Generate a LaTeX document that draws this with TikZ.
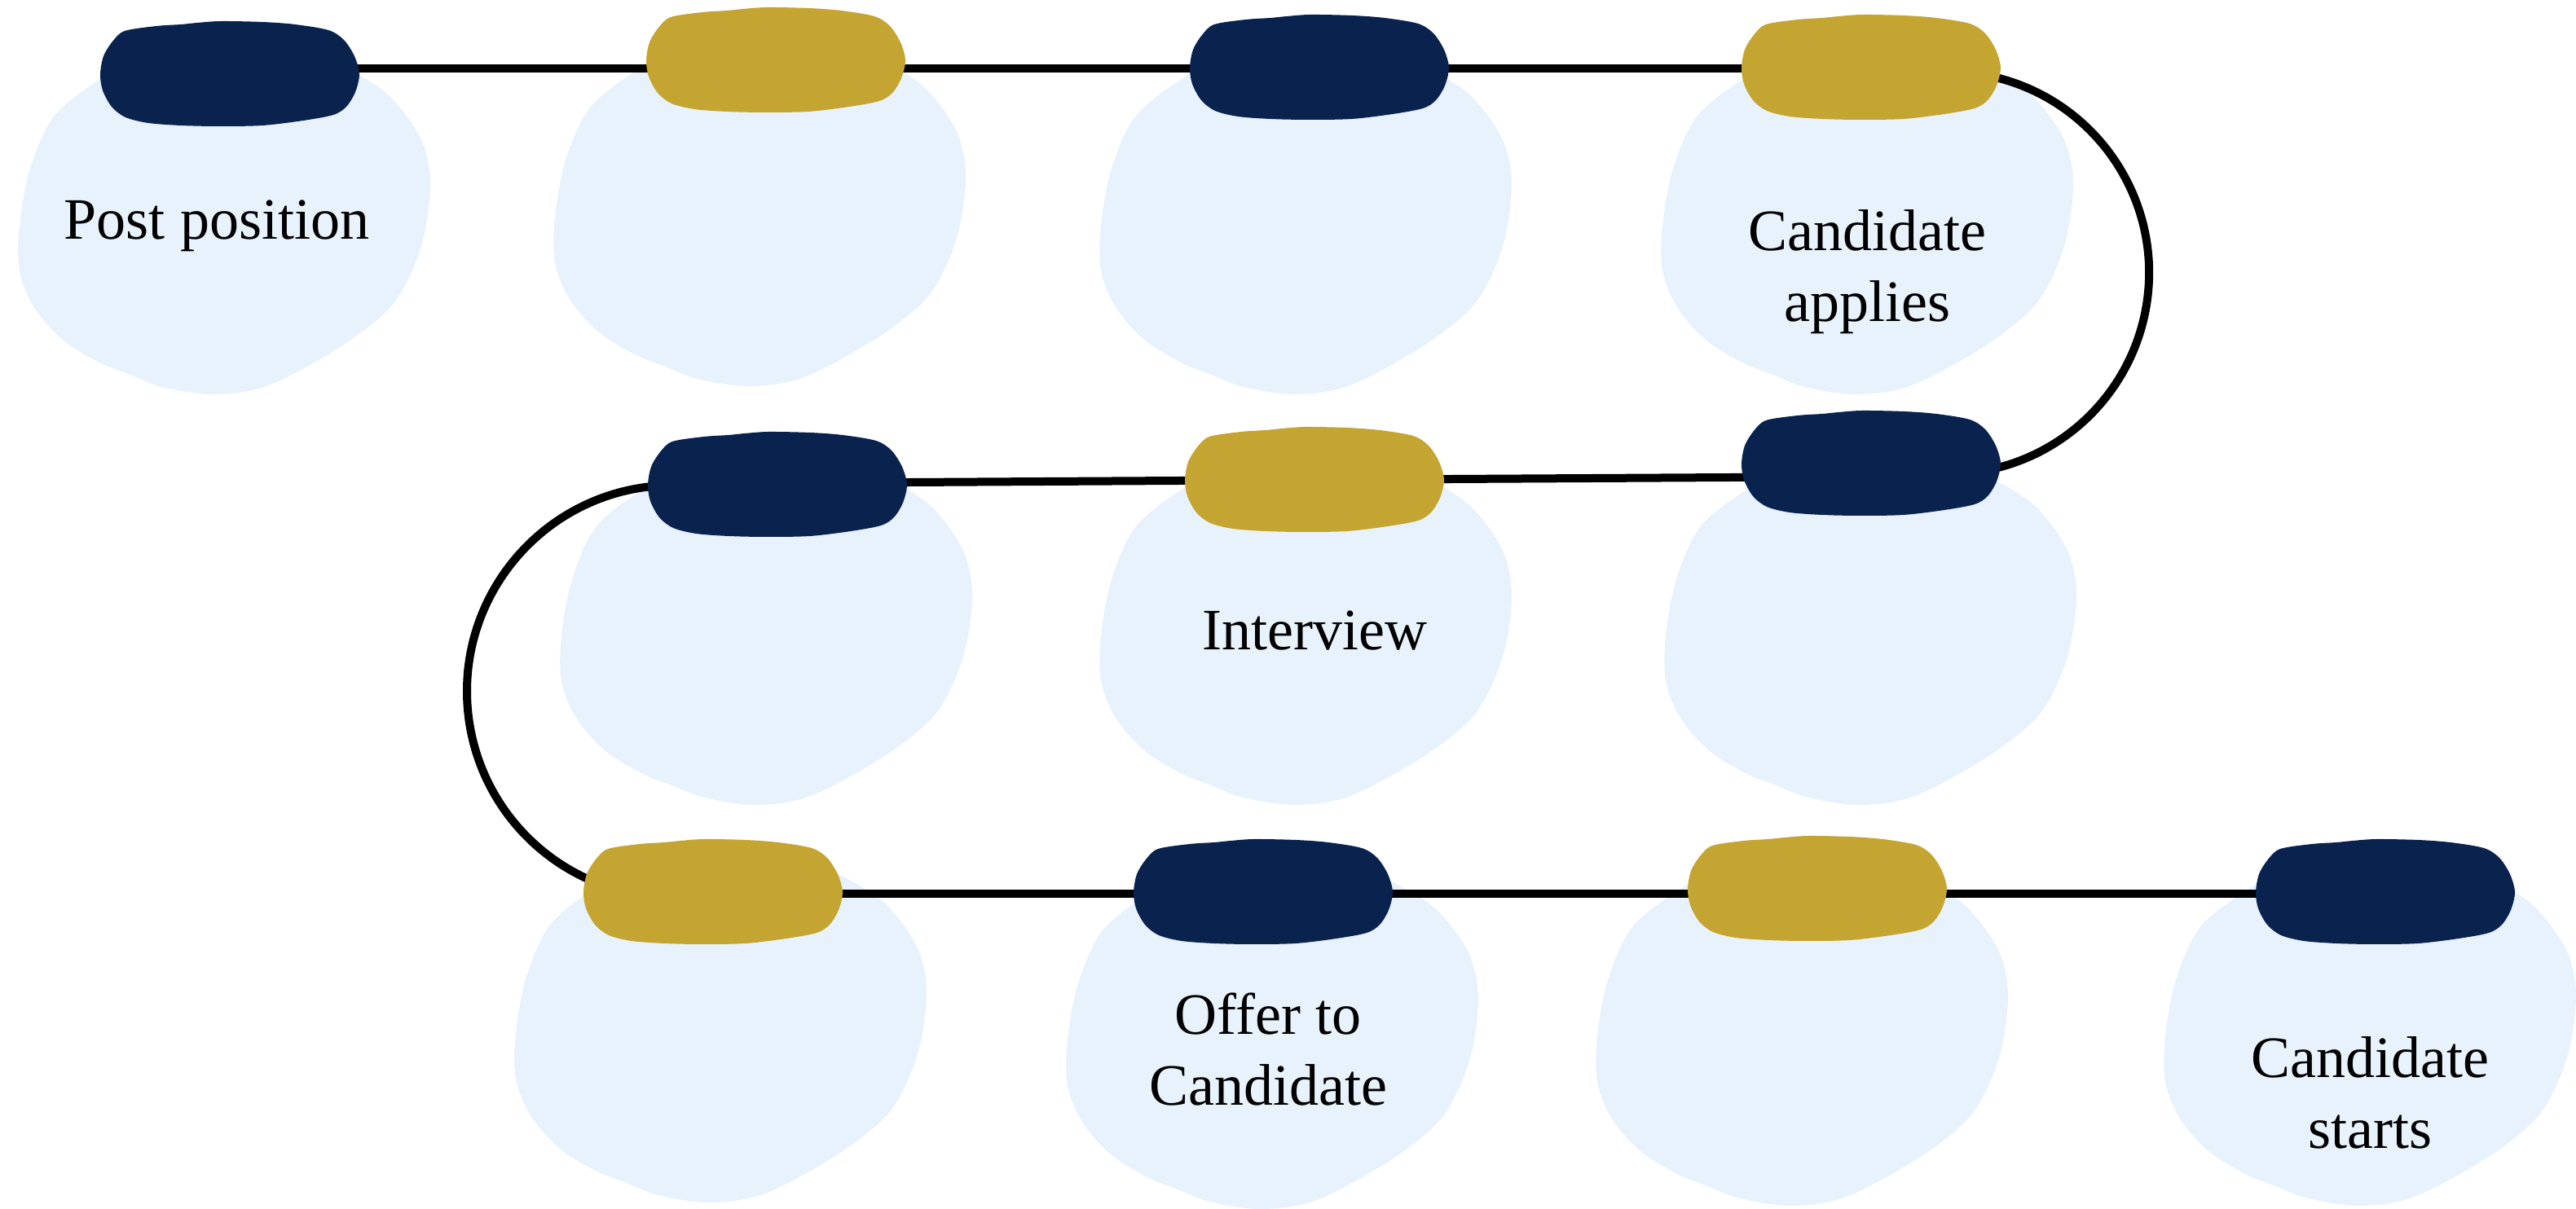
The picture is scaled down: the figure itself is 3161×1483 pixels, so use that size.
\documentclass[tikz,border=0pt]{standalone}
\usepackage{fontspec}
\setmainfont{Liberation Serif}
\definecolor{navy}{HTML}{0A224E}
\definecolor{gold}{HTML}{C5A532}
\definecolor{blobblue}{HTML}{E8F2FC}
\tikzset{
  pill/.pic={\fill[#1] plot[smooth cycle, tension=0.5] coordinates {(-129,53) (-90,59) (-60,61) (-40,63) (-11,65) (40,64) (80,61) (121,54) (140,42) (153,22) (159,0) (154,-22) (143,-40) (127,-50) (90,-57) (40,-63) (-14,-64) (-60,-63) (-100,-60) (-128,-53) (-145,-40) (-156,-20) (-159,0) (-155,22) (-144,40)};},
  blob/.pic={\fill[blobblue] plot[smooth cycle, tension=0.55] coordinates {(0,35) (100,20) (160,-6) (200,-35) (235,-85) (246,-140) (235,-215) (205,-280) (160,-322) (100,-360) (39,-389) (-22,-397) (-83,-388) (-125,-372) (-160,-358) (-205,-330) (-240,-290) (-258,-245) (-258,-190) (-245,-120) (-215,-55) (-157,-9) (-100,20)};},
  conn/.style={line width=10pt, black},
  lbl/.style={font=\fontsize{72}{87}\selectfont, inner sep=0pt, anchor=base, text=black}
}
\begin{document}
\begin{tikzpicture}[x=1pt,y=1pt]
\useasboundingbox[fill=white] (0,0) rectangle (3161,1483);
% connection points
\coordinate (n1) at (282,1399);
\coordinate (n2) at (952,1399);
\coordinate (n3) at (1619,1399);
\coordinate (n4) at (2296,1399);
\coordinate (n5) at (954,890);
\coordinate (n6) at (1613,894);
\coordinate (n7) at (2296,898);
\coordinate (n8) at (875,386);
\coordinate (n9) at (1550,386);
\coordinate (n10) at (2230,386);
\coordinate (n11) at (2927,386);
\coordinate (a4) at (2449,1388);
\coordinate (a5) at (800,886);
% blobs
\pic at (282,1396) {blob};
\pic at (939,1406) {blob};
\pic at (1609,1396) {blob};
\pic at (2298,1396) {blob};
\pic at (947,892) {blob};
\pic at (1609,892) {blob};
\pic at (2302,892) {blob};
\pic at (891,404) {blob};
\pic at (1568,396) {blob};
\pic at (2218,400) {blob};
\pic at (2915,400) {blob};
% connectors
\draw[conn] (n1) -- (n2) -- (n3) -- (n4);
\draw[conn] (a4) arc[start angle=76.2, end angle=-76.2, radius=247];
\draw[conn] (n7) -- (n6) -- (n5);
\draw[conn] (a5) arc[start angle=95.9, end angle=245.3, radius=253];
\draw[conn] (n8) -- (n9) -- (n10) -- (n11);
% pills
\pic at (282,1392) {pill=navy};
\pic at (952,1409) {pill=gold};
\pic at (1619,1400) {pill=navy};
\pic at (2296,1400) {pill=gold};
\pic at (954,888) {pill=navy};
\pic at (1613,894) {pill=gold};
\pic at (2296,914) {pill=navy};
\pic at (875,388) {pill=gold};
\pic at (1550,388) {pill=navy};
\pic at (2230,392) {pill=gold};
\pic at (2927,388) {pill=navy};
% labels
\node[lbl] (t1) at (266,1189) {Post position};
\node[lbl] (t4) at (2291,1175) {\begin{tabular}[t]{@{}c@{}}Candidate\\applies\end{tabular}};
\node[lbl] (t6) at (1613,685) {Interview};
\node[lbl] (t9) at (1556,213) {\begin{tabular}[t]{@{}c@{}}Offer to\\Candidate\end{tabular}};
\node[lbl] (t11) at (2908,160) {\begin{tabular}[t]{@{}c@{}}Candidate\\starts\end{tabular}};
\end{tikzpicture}
\end{document}
